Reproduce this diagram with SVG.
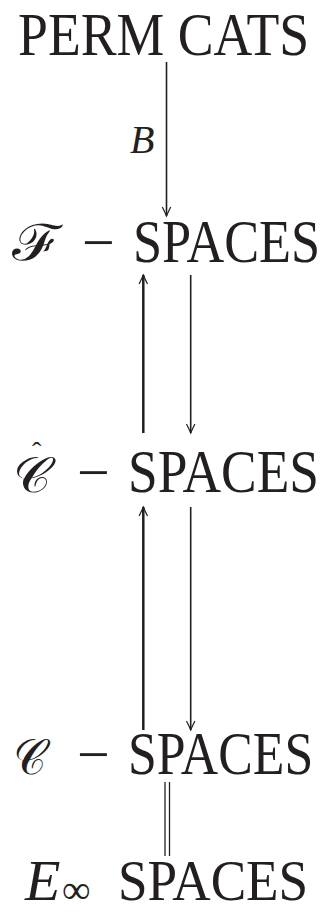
<svg xmlns="http://www.w3.org/2000/svg" width="330" height="913" viewBox="0 0 330 913">
<style>
.t{font-family:"Liberation Serif","DejaVu Serif",serif;fill:#231f20;}
.big{font-size:61px;}
.mi{font-size:58px;}
.it{font-style:italic;}
.scr{font-family:"Noto Sans Math","STIX Two Math","Latin Modern Math","DejaVu Serif",serif;fill:#231f20;}
.ln{stroke:#231f20;fill:none;}
.thin{stroke-width:1.6;}
.thick{stroke-width:2.5;}
</style>
<defs>
<marker id="ah" markerUnits="userSpaceOnUse" markerWidth="20" markerHeight="20" viewBox="-10 -10 20 20" refX="0" refY="0" orient="auto" overflow="visible">
<path d="M -9 -4.2 Q -3 -1.2 0 0 Q -3 1.2 -9 4.2" fill="none" stroke="#231f20" stroke-width="1.2"/>
</marker>
</defs>
<g id="perm-cats">
<text class="t big" transform="translate(18,55) scale(0.881,1)">PERM CATS</text>
</g>
<g id="f-spaces">
<text class="scr" x="10" y="260" font-size="50" textLength="52" lengthAdjust="spacingAndGlyphs">ℱ</text>
<text class="t mi" x="82" y="262">−</text>
<text class="t big" transform="translate(133,262) scale(0.858,1)">SPACES</text>
</g>
<g id="chat-spaces">
<text class="scr" x="15" y="492" font-size="50">𝒞<tspan class="t" x="32" y="461" font-size="28">ˆ</tspan></text>
<text class="t mi" x="77" y="492">−</text>
<text class="t big" transform="translate(128,492) scale(0.876,1)">SPACES</text>
</g>
<g id="c-spaces">
<text class="scr" x="15" y="774" font-size="50" textLength="36" lengthAdjust="spacingAndGlyphs">𝒞</text>
<text class="t mi" x="77" y="774">−</text>
<text class="t big" transform="translate(128,774) scale(0.849,1)">SPACES</text>
</g>
<g id="einf-spaces">
<text class="t it" x="25" y="900" font-size="58">E</text>
<text class="t" x="62" y="903" font-size="40">∞</text>
<text class="t" font-size="58" transform="translate(118,900) scale(0.917,1)">SPACES</text>
</g>
<g id="connectors">
<line class="ln thin" x1="166.5" y1="62" x2="166.5" y2="216" marker-end="url(#ah)"/>
<text class="t it" x="130" y="153" font-size="40">B</text>
<line class="ln thick" x1="143.3" y1="433" x2="143.3" y2="275" marker-end="url(#ah)"/>
<line class="ln thin" x1="190.7" y1="275" x2="190.7" y2="433" marker-end="url(#ah)"/>
<line class="ln thick" x1="143.3" y1="730" x2="143.3" y2="507" marker-end="url(#ah)"/>
<line class="ln thin" x1="190.7" y1="507" x2="190.7" y2="730" marker-end="url(#ah)"/>
<line class="ln" stroke-width="1.3" x1="165" y1="782" x2="165" y2="856"/>
<line class="ln" stroke-width="1.3" x1="169.5" y1="782" x2="169.5" y2="856"/>
</g>
</svg>
